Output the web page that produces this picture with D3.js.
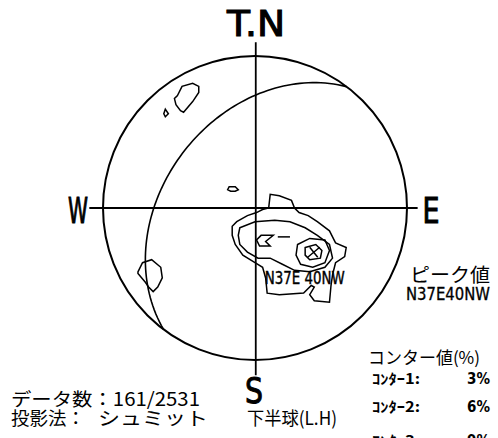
<!DOCTYPE html>
<html>
<head>
<meta charset="utf-8">
<script src="https://cdn.jsdelivr.net/npm/d3@7"></script>
<style>
  body { margin: 0; background: #fff; }
  svg { display: block; }
  .lbl { font-family: "DejaVu Sans Condensed", "Liberation Sans", sans-serif; fill: #000; }
  .jp { font-family: "Noto Sans CJK JP", sans-serif; fill: #000; }
</style>
</head>
<body>
<svg id="net" width="498" height="438"></svg>
<script>
// plane (strike / dip) drawn as a great circle, peak = its pole
const planeStrike = 37, planeDip = 40, planeDipDir = 307
const peakLabel = 'N37E 40NW'

// contour polygons, net units (radius = 100, x east, y north)
const contour1 = [[9,0],[10,9],[16,8],[24,5],[26,0],[29,-3],[35,-5],[41,-9],[49,-15],[53,-23],[60,-26],[59,-32],
  [53,-36],[51,-44],[50,-51],[49,-62],[39,-61],[36,-57],[39,-52],[37,-51],[32,-56],[16,-57],[8,-56],[7,-46],
  [5,-39],[0,-36],[-8,-31],[-13,-24],[-15,-18],[-15,-12],[-12,-9],[-5,-5],[1,-3],[5,-1]]
const contour2 = [[-10,-13],[0,-9],[13,-8],[23,-9],[33,-13],[41,-18],[49,-24],[51,-33],[46,-39],[36,-42],
  [26,-41],[18,-37],[10,-33],[2,-33],[-5,-29],[-10,-24],[-11,-18]]
const contour3 = [[28,-24],[36,-20],[46,-21],[49,-28],[46,-36],[38,-39],[30,-37],[27,-31]]
const contour4 = [[33,-26],[40,-24],[44,-28],[43,-33],[36,-34],[33,-31]]
const smallLoops = [
  [[-51,74],[-48,80],[-41,82],[-37,80],[-37,76],[-41,70],[-47,63],[-49,64],[-52,68],[-53,72]],
  [[-59,65],[-57,62],[-59,60],[-60,62]],
  [[-17,14],[-13,14],[-11,12],[-13,11],[-16,11],[-18,12]],
  [[-77,-42],[-74,-36],[-68,-34],[-62,-39],[-61,-46],[-64,-52],[-67,-55],[-70,-52],[-72,-49],[-77,-43]],
  [[12,-18],[4,-18],[1,-21],[3,-25],[10,-25],[7,-22]]
]
const dash = [[15,-19],[23,-19]]

// legend texts
const legendTitle = 'コンター値(%)'
const contourNames = ['ｺﾝﾀｰ1:', 'ｺﾝﾀｰ2:', 'ｺﾝﾀｰ3:']
const contourValues = ['3%', '6%', '9%']
const dataCount = 'データ数：161/2531'
const projText = ['投影法：', 'シュミット', '下半球(L.H)']

const svg = d3.select('#net')
const cx = 255, cy = 208, R = 152
const x = d3.scaleLinear().domain([-100, 100]).range([cx - R, cx + R])
const y = d3.scaleLinear().domain([-100, 100]).range([cy + R, cy - R])
const line = d3.line().x(d => x(d[0])).y(d => y(d[1]))
const closed = d3.line().x(d => x(d[0])).y(d => y(d[1])).curve(d3.curveLinearClosed)

// equal-area (Schmidt) lower hemisphere projection of a direction vector (E, N, Down)
function project(v){
  const h = Math.hypot(v[0], v[1])
  const r = Math.sqrt(Math.max(0, 1 - v[2])) * 100
  return h === 0 ? [0, 0] : [r * v[0] / h, r * v[1] / h]
}
const rad = Math.PI / 180
const sv = [Math.sin(planeStrike * rad), Math.cos(planeStrike * rad), 0]
const dv = [Math.cos(planeDip * rad) * Math.sin(planeDipDir * rad),
            Math.cos(planeDip * rad) * Math.cos(planeDipDir * rad),
            Math.sin(planeDip * rad)]
const gc = d3.range(0, 181, 2).map(t => {
  const c = Math.cos(t * rad), s = Math.sin(t * rad)
  return project([c * sv[0] + s * dv[0], c * sv[1] + s * dv[1], c * sv[2] + s * dv[2]])
})
const poleTrend = planeDipDir - 180, polePlunge = 90 - planeDip
const pole = project([Math.cos(polePlunge * rad) * Math.sin(poleTrend * rad),
                      Math.cos(polePlunge * rad) * Math.cos(poleTrend * rad),
                      Math.sin(polePlunge * rad)])

// primitive circle
svg.append('circle').attr('cx', x(0)).attr('cy', y(0)).attr('r', x(100) - x(0))
   .attr('fill', 'none').attr('stroke', '#000').attr('stroke-width', 2)

// axes
svg.append('line').attr('x1', x(-109)).attr('x2', x(107)).attr('y1', y(0)).attr('y2', y(0))
   .attr('stroke', '#000').attr('stroke-width', 1.8)
svg.append('line').attr('x1', x(0.5)).attr('x2', x(0.5)).attr('y1', y(109)).attr('y2', y(-110))
   .attr('stroke', '#000').attr('stroke-width', 1.8)

// great circle
svg.append('path').attr('d', line(gc)).attr('fill', 'none').attr('stroke', '#000').attr('stroke-width', 1.6)

// contours
const cg = svg.append('g').attr('fill', 'none').attr('stroke', '#000').attr('stroke-width', 1.5)
cg.selectAll('path.c').data([contour1, contour2, contour3, contour4, ...smallLoops]).join('path')
  .attr('class', 'c').attr('d', closed)
cg.append('path').attr('d', line(dash))

// peak cross
const px = x(pole[0]), py = y(pole[1])
svg.append('path').attr('d', `M${px-6},${py+5}L${px+6},${py-5}M${px-4},${py-5}L${px+4},${py+5}`)
   .attr('stroke', '#000').attr('stroke-width', 1.5)

// peak label
svg.append('text').attr('class', 'lbl').attr('x', px - 49).attr('y', py + 32)
   .attr('font-size', 18).attr('stroke', '#000').attr('stroke-width', 0.4)
   .attr('textLength', 80).attr('lengthAdjust', 'spacingAndGlyphs').text(peakLabel)

// direction letters
const big = [
  {t: 'T.N', x: 256, y: 36, len: 58},
  {t: 'W', x: 78, y: 223, len: 20},
  {t: 'E', x: 431, y: 223, len: 17},
  {t: 'S', x: 254, y: 403, len: 18}
]
svg.selectAll('text.dir').data(big).join('text').attr('class', 'lbl dir')
   .attr('x', d => d.x - d.len / 2).attr('y', d => d.y)
   .attr('stroke', '#000').attr('stroke-width', 1)
   .attr('font-size', 36).attr('textLength', d => d.len).attr('lengthAdjust', 'spacingAndGlyphs')
   .text(d => d.t)

// right-side texts
svg.append('text').attr('class', 'jp').attr('x', 410).attr('y', 282).attr('font-size', 19)
   .attr('textLength', 80).attr('lengthAdjust', 'spacingAndGlyphs').text('ピーク値')
svg.append('text').attr('class', 'lbl').attr('x', 406).attr('y', 300).attr('font-size', 17)
   .attr('stroke', '#000').attr('stroke-width', 0.3)
   .attr('textLength', 84).attr('lengthAdjust', 'spacingAndGlyphs')
   .text(peakLabel.replace(' ', ''))
svg.append('text').attr('class', 'jp').attr('x', 368).attr('y', 364).attr('font-size', 17)
   .attr('textLength', 112).attr('lengthAdjust', 'spacingAndGlyphs').text(legendTitle)
const rowY = [384, 412, 446]
const leg = svg.append('g')
leg.selectAll('text.nm').data(contourNames).join('text').attr('class', 'jp nm')
   .attr('x', 372).attr('y', (d, i) => rowY[i]).attr('font-size', 14).attr('font-weight', 'bold')
   .attr('textLength', 48).attr('lengthAdjust', 'spacingAndGlyphs').text(d => d)
leg.selectAll('text.vl').data(contourValues).join('text').attr('class', 'lbl vl')
   .attr('x', 490).attr('y', (d, i) => rowY[i]).attr('text-anchor', 'end')
   .attr('font-size', 15).attr('font-weight', 'bold').text(d => d)

// bottom-left texts
svg.append('text').attr('class', 'jp').attr('x', 11).attr('y', 406).attr('font-size', 18.5)
   .attr('textLength', 189).attr('lengthAdjust', 'spacingAndGlyphs').text(dataCount)
const pr = svg.append('g').attr('class', 'jp')
pr.selectAll('text').data(projText).join('text').attr('class', 'jp')
  .attr('x', (d, i) => [11, 98, 247][i]).attr('y', 425).attr('font-size', 18.5)
  .attr('textLength', (d, i) => [74, 110, 90][i]).attr('lengthAdjust', 'spacingAndGlyphs')
  .text(d => d)
</script>
</body>
</html>
